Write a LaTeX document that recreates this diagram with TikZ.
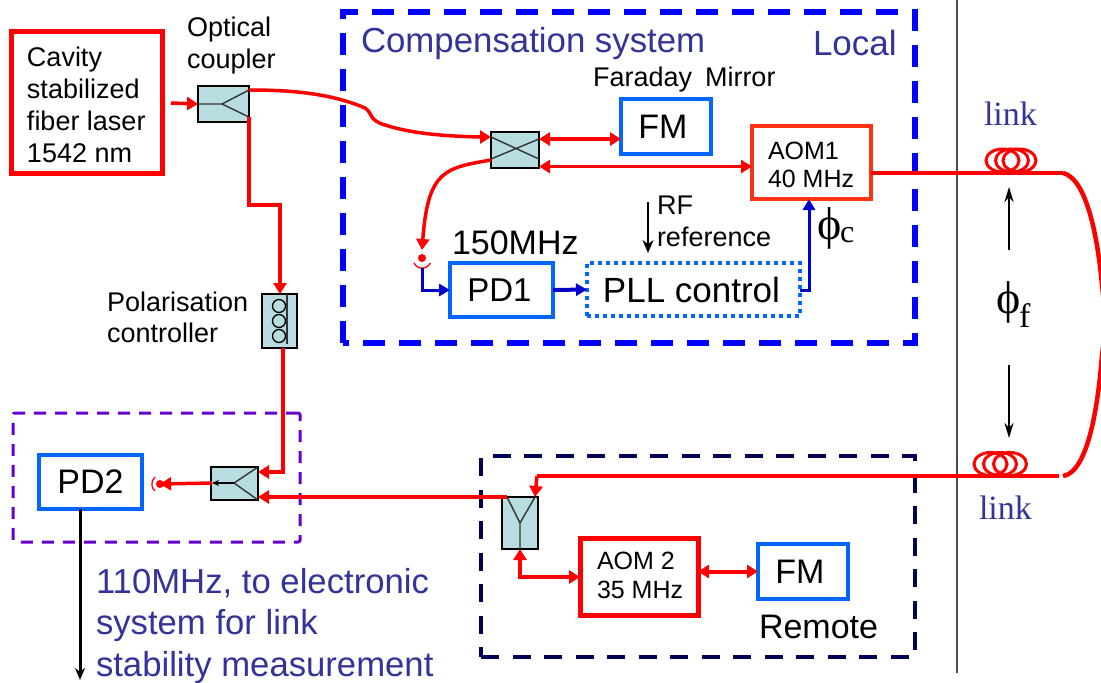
\documentclass[tikz,border=0pt]{standalone}
\usepackage{fontspec}
\setmainfont{Liberation Sans}
\newfontfamily\serifx{Liberation Serif}
\usetikzlibrary{arrows.meta,shapes.geometric}
\definecolor{cred}{HTML}{FF0000}
\definecolor{corange}{HTML}{FF3311}
\definecolor{cblue}{HTML}{0066FF}
\definecolor{cdblue}{HTML}{0000CC}
\definecolor{ctext}{HTML}{333399}
\definecolor{cfill}{HTML}{B7DDE0}
\definecolor{cnavy}{HTML}{000055}
\definecolor{cviolet}{HTML}{6600CC}
\newcommand{\fs}[2]{\fontsize{#1}{#2}\selectfont}
\tikzset{
 x=1pt,y=-1pt,
 every node/.style={outer sep=0pt},
 redbox/.style={draw=cred,line width=5pt,inner sep=0,anchor=north west},
 bluebox/.style={draw=cblue,line width=4.5pt,inner sep=0,anchor=north west,font=\fs{33}{36}},
 comp/.style={draw=black,line width=1.6pt,fill=cfill,inner sep=0,anchor=north west},
 lab/.style={inner sep=0,anchor=west,align=left},
 fib/.style={draw=cred,line width=3.5pt},
 rtip/.style={-{Triangle[length=11pt,width=13pt]}},
 rtips/.style={{Triangle[length=11pt,width=13pt]}-{Triangle[length=11pt,width=13pt]}},
 btip/.style={-{Triangle[length=11pt,width=12pt]}},
 inner/.style={draw=black!80,line width=1.4pt},
 coil/.style={draw=cred,line width=3pt,ellipse,inner sep=0,minimum width=33pt,minimum height=23pt},
}
\begin{document}
\begin{tikzpicture}
\useasboundingbox (0,0) rectangle (1101,683);
\fill[white] (0,0) rectangle (1101,683);
% divider
\coordinate (divT) at (957,0); \coordinate (divB) at (957,673);
\draw[black!70,line width=1.4pt] (divT) -- (divB);
% dashed frames
\node[draw=blue,line width=5.5pt,dash pattern=on 22pt off 14pt,dash phase=16pt,inner sep=0,anchor=north west,minimum width=572pt,minimum height=331pt] (compbox) at (343,12) {};
\node[draw=cnavy,line width=4pt,dash pattern=on 18pt off 13.5pt,inner sep=0,anchor=north west,minimum width=434pt,minimum height=201pt] (rembox) at (481,456) {};
\node[draw=cviolet,line width=3pt,dash pattern=on 12pt off 9pt,inner sep=0,anchor=north west,minimum width=287pt,minimum height=129pt,rounded corners=2pt] (pdbox) at (13,413) {};
% boxes
\node[redbox,minimum width=151pt,minimum height=142pt] (laser) at (11,31) {};
\node[lab,font=\fs{27}{32},anchor=north west] (lasertxt) at (27,47) {Cavity\\stabilized\\fiber laser\\1542 nm};
\node[lab,font=\fs{27}{32},anchor=north west] (couplertxt) at (187,17) {Optical\\coupler};
\node[comp,minimum width=51pt,minimum height=36pt] (c1) at (198,86) {};
\coordinate (c1a) at (249,90); \coordinate (c1b) at (249,117);
\draw[inner] (c1.west) -- (222,104) coordinate (c1m) -- (c1a) (c1m) -- (c1b);
\node[comp,minimum width=35pt,minimum height=54pt] (pol) at (262,294) {};
\foreach \yy/\nn in {306/a,321/b,336/c}{\node[draw=black,line width=1.3pt,circle,minimum size=13pt,inner sep=0] (pc\nn) at (279,\yy) {};}
\coordinate (polt) at (287,294); \coordinate (polb) at (287,344);
\draw[inner] (polt) -- (polb);
\node[lab,font=\fs{27}{31},anchor=north west] (poltxt) at (107,292) {Polarisation\\controller};
\node[comp,minimum width=47pt,minimum height=33pt] (c2) at (211,467) {};
\draw[inner] (c2.north east) -- (234,483) coordinate (c2m) -- (c2.south east);
\node[bluebox,minimum width=103pt,minimum height=54pt,font=\fs{34}{36}] (pd2) at (39,455) {PD2};
\node[comp,minimum width=48pt,minimum height=36pt] (cx) at (491,132) {};
\coordinate (cxa) at (491,137); \coordinate (cxb) at (539,159); \coordinate (cxc) at (491,159); \coordinate (cxd) at (539,139);
\draw[inner] (cxa) -- (cxb) (cxc) -- (cxd);
\node[bluebox,minimum width=90pt,minimum height=55pt,font=\fs{34}{36}] (fm1) at (621,99) {\kern-6pt FM};
\node[draw=corange,line width=4.5pt,inner sep=0,anchor=north west,minimum width=119pt,minimum height=73pt] (aom1) at (752,126) {};
\node[lab,font=\fs{25}{28},anchor=north west] (aom1txt) at (768,142) {AOM1\\40 MHz};
\node[bluebox,minimum width=103pt,minimum height=54pt] (pd1) at (450,263) {\kern-4pt PD1};
\node[draw=cblue,line width=4pt,dash pattern=on 4pt off 4pt,inner sep=0,anchor=north west,minimum width=213pt,minimum height=53pt,font=\fs{35}{36}] (pll) at (587,263) {\kern-4pt PLL control};
\node[comp,minimum width=36pt,minimum height=52pt] (y1) at (502,497) {};
\coordinate (yl) at (507,497); \coordinate (yr) at (535,497); \coordinate (ym) at (520,523);
\draw[inner] (yl) -- (ym) -- (yr) (ym) -- (y1.south);
\node[redbox,minimum width=118pt,minimum height=77pt] (aom2) at (580,538) {};
\node[lab,font=\fs{25}{29},anchor=north west] (aom2txt) at (597,552) {AOM 2\\35 MHz};
\node[bluebox,minimum width=90pt,minimum height=55pt,font=\fs{34}{36}] (fm2) at (758,544) {\kern-6pt FM};
% labels
\node[lab,font=\fs{34.8}{36},text=ctext] (comptxt) at (361,44) {Compensation system};
\node[lab,font=\fs{35}{36},text=ctext] (localtxt) at (813,43) {Local};
\node[lab,font=\fs{27}{30}] (farad) at (593,80) {Faraday\hspace{13pt}Mirror};
\node[lab,font=\fs{34}{36}] (mhz150) at (452,243) {150MHz};
\node[lab,font=\fs{27}{32},anchor=north west] (rftxt) at (657,196) {RF\\reference};
\node[lab,font=\fs{34}{36}] (remote) at (759,627) {Remote};
\node[lab,font=\fs{34.7}{41.5},text=ctext,anchor=north west] (mhz110) at (96,568) {110MHz, to electronic\\system for link\\stability measurement};
\node[lab,font={\serifx\fs{34}{36}},text=ctext] (link1) at (984,114) {link};
\node[lab,font={\serifx\fs{34}{36}},text=ctext] (link2) at (979,508) {link};
\node[lab,font={\serifx\fs{46}{48}}] (phic) at (817,228) {ϕ\hspace{-1pt}\fs{32}{34}\raisebox{-3pt}{c}};
\node[lab,font={\serifx\fs{46}{48}}] (phif) at (996,305) {ϕ\hspace{-1pt}\fs{34}{36}\raisebox{-14pt}{f}};
% coils
\node[coil] (k1) at (1002.5,160.5) {}; \node[coil] (k2) at (1012,160.5) {}; \node[coil] (k3) at (1019.5,160.5) {};
\node[coil] (k4) at (990.5,464) {}; \node[coil] (k5) at (1000,464) {}; \node[coil] (k6) at (1010,464) {};
% fibres
\coordinate (s1) at (171,103);
\draw[fib,rtip] (s1) -- (c1.west);
\coordinate (s2) at (480,137); \coordinate (s3) at (365,108); \coordinate (s4) at (385,125);
\draw[fib] (c1a) .. controls (290,90) and (330,93) .. (s3) .. controls (373,113) and (368,120) .. (s4) .. controls (410,133) and (440,136) .. (s2);
\draw[fib,rtip] (s2) -- (cxa);
\coordinate (r1) at (249,205); \coordinate (r2) at (280,205);
\draw[fib,rtip] (c1b) -- (r1) -- (r2) -- (pol.north -| r2);
\coordinate (r3) at (283,472);
\draw[fib,rtip] (pol.south -| r3) -- (r3) -- (c2.east |- r3);
\coordinate (d2) at (160,484);
\coordinate (c2l) at (212,483);
\draw[fib,rtip] (c2l) -- (d2);
\fill[cred] (d2) circle (4pt);
\draw[cred,line width=1.3pt] (155,477) arc (130:230:9pt);
\draw[black,line width=2.4pt,-{Stealth[length=7pt,width=6pt]}] (c2m) -- (c2l);
\draw[fib,rtip] (yl) -- (c2.east |- yl);
\coordinate (e1) at (1059,476); \coordinate (e2) at (537,476);
\draw[fib] (e1) -- (e2);
\draw[fib,rtip] (e2) -- (yr);
\coordinate (e3) at (520,577);
\draw[fib,rtips] (y1.south) -- (e3) -- (aom2.west |- e3);
\draw[fib,rtips,line width=4pt] (aom2.east |- fm2.west) -- (fm2.west);
\draw[fib,rtips] (cxd) -- (fm1.west |- cxd);
\coordinate (f1) at (539,166.5);
\draw[fib,rtips] (f1) -- (aom1.west |- f1);
\coordinate (a0) at (491,160); \coordinate (d1) at (422,258);
\draw[fib,rtip] (a0) .. controls (445,168) and (428,170) .. (422,250);
\fill[cred] (d1) circle (4pt);
\draw[cred,line width=1.3pt] (414,263) arc (205:335:9pt);
\coordinate (f2) at (1063,173); \coordinate (f3) at (1063,476);
\draw[fib] (aom1.east |- f2) -- (f2);
\begin{scope}
\clip (1040,160) rectangle (1101,490);
\draw[cred,line width=4.5pt] (f2) .. controls (1085,178) and (1097,230) .. (1102,285) .. controls (1105,310) and (1105,335) .. (1102,355) .. controls (1097,420) and (1085,473) .. (f3);
\end{scope}
% blue
\coordinate (b1) at (422,268); \coordinate (b2) at (422,290);
\draw[cdblue,line width=3pt,btip] (b1) -- (b2) -- (pd1.west |- b2);
\draw[cdblue,line width=4pt,btip] (pd1.east) -- (pll.west);
\coordinate (b3) at (809,290);
\draw[cdblue,line width=3pt,btip] (pll.east |- b3) -- (b3) -- (aom1.south -| b3);
% black
\coordinate (rf1) at (648,202); \coordinate (rf2) at (648,253);
\draw[black,line width=2.6pt,-{Stealth[length=13pt,width=11pt]}] (rf1) -- (rf2);
\coordinate (o) at (80,680);
\draw[black,line width=3pt,-{Stealth[length=12pt,width=10pt]}] (pd2.south -| o) -- (o);
\coordinate (u1) at (1009,250); \coordinate (u2) at (1009,187);
\draw[black,line width=2.4pt,-{Stealth[length=15pt,width=9pt]}] (u1) -- (u2);
\coordinate (v1) at (1009,365); \coordinate (v2) at (1009,438);
\draw[black,line width=2.4pt,-{Stealth[length=15pt,width=9pt]}] (v1) -- (v2);
\end{tikzpicture}
\end{document}
